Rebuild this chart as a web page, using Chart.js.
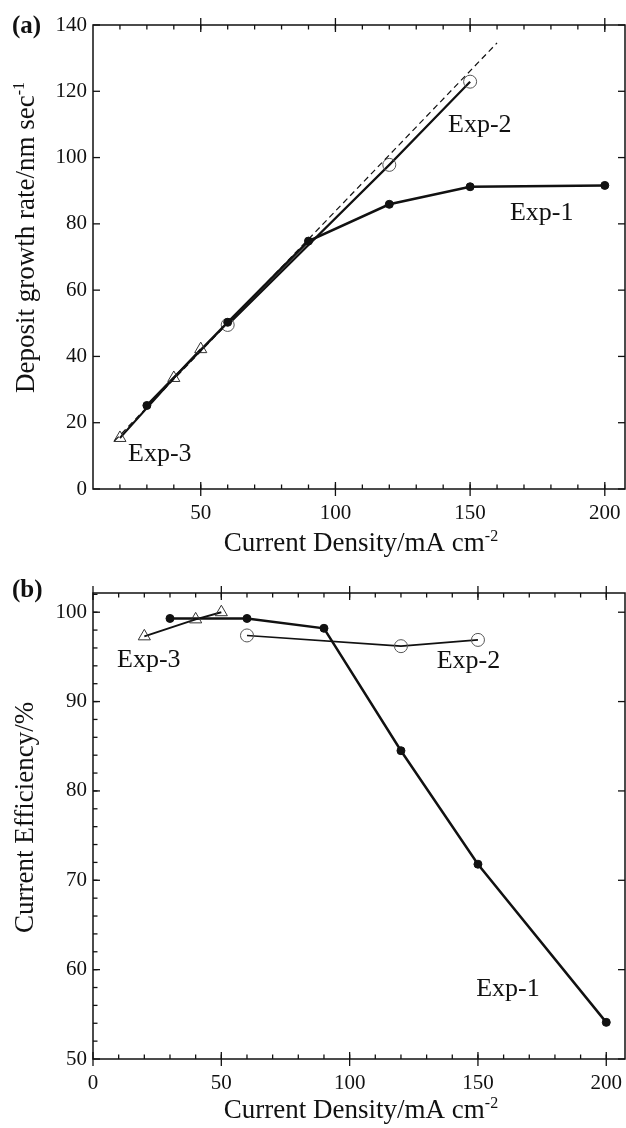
<!DOCTYPE html>
<html>
<head>
<meta charset="utf-8">
<script src="https://cdn.jsdelivr.net/npm/chart.js@4.4.1/dist/chart.umd.min.js"></script>
<style>
  html, body { margin: 0; padding: 0; background: #ffffff; }
  body { width: 626px; height: 1128px; position: relative; overflow: hidden; }
  canvas { position: absolute; left: 0; }
  #cA { top: 0; }
  #cB { top: 560px; }
</style>
</head>
<body>
<canvas id="cA" width="626" height="560"></canvas>
<canvas id="cB" width="626" height="568"></canvas>
<script>
// ---------- Panel (a): deposit growth rate ----------
const densityExp1 = [30, 60, 90, 120, 150, 200];
const growthExp1  = [25.2, 50.3, 74.8, 85.9, 91.2, 91.6];
const densityExp2 = [60, 120, 150];
const growthExp2  = [49.5, 97.8, 122.9];
const densityExp3 = [20, 40, 50];
const growthExp3  = [15.4, 33.5, 42.2];
const guideDensity = [18, 160];
const guideGrowth  = [14.5, 134.6];

// ---------- Panel (b): current efficiency ----------
const effDensityExp1 = [30, 60, 90, 120, 150, 200];
const efficiencyExp1 = [99.3, 99.3, 98.2, 84.5, 71.8, 54.1];
const effDensityExp2 = [60, 120, 150];
const efficiencyExp2 = [97.4, 96.2, 96.9];
const effDensityExp3 = [20, 40, 50];
const efficiencyExp3 = [97.3, 99.2, 100.0];

// ---------- tick labels ----------
const ticksAx = [50, 100, 150, 200];
const ticksAy = [0, 20, 40, 60, 80, 100, 120, 140];
const ticksBx = [0, 50, 100, 150, 200];
const ticksBy = [50, 60, 70, 80, 90, 100];

const SERIF = "'Liberation Serif', 'Times New Roman', serif";
const INK = '#111111';

function pts(xs, ys) { return xs.map((x, i) => ({ x: x, y: ys[i] })); }
function range(a, b, s) { const r = []; for (let v = a; v <= b + 1e-9; v += s) r.push(v); return r; }

function drawSuperText(ctx, parts, x, y) {
  let cx = x;
  parts.forEach(p => {
    ctx.font = p.size + 'px ' + SERIF;
    ctx.fillText(p.t, cx, y - (p.rise || 0));
    cx += ctx.measureText(p.t).width;
  });
}
function superWidth(ctx, parts) {
  let w = 0;
  parts.forEach(p => { ctx.font = p.size + 'px ' + SERIF; w += ctx.measureText(p.t).width; });
  return w;
}

function framePlugin(cfg) {
  return {
    id: 'frame_' + cfg.id,
    beforeDatasetsDraw(chart) {
      const { ctx, chartArea: a, scales: { x, y } } = chart;
      ctx.save();
      ctx.strokeStyle = INK;
      ctx.lineWidth = 1.5;
      ctx.strokeRect(a.left, a.top, a.right - a.left, a.bottom - a.top);
      ctx.lineWidth = 1.3;
      const seg = (x1, y1, x2, y2) => { ctx.beginPath(); ctx.moveTo(x1, y1); ctx.lineTo(x2, y2); ctx.stroke(); };
      cfg.xMajor.forEach(v => {
        const p = x.getPixelForValue(v);
        seg(p, a.bottom - 7, p, a.bottom + 7);
        seg(p, a.top - 7, p, a.top + 7);
      });
      cfg.xMinor.forEach(v => {
        const p = x.getPixelForValue(v);
        if (p <= a.left + 1 || p >= a.right - 1) return;
        seg(p, a.bottom - 4.5, p, a.bottom);
        seg(p, a.top, p, a.top + 4.5);
      });
      cfg.yMajor.forEach(v => {
        const p = y.getPixelForValue(v);
        seg(a.left, p, a.left + 7, p);
        seg(a.right - 7, p, a.right, p);
      });
      cfg.yMinor.forEach(v => {
        const p = y.getPixelForValue(v);
        if (p <= a.top + 1 || p >= a.bottom - 1) return;
        seg(a.left, p, a.left + 4.5, p);
      });
      ctx.restore();
    },
    afterDraw(chart) {
      const { ctx, chartArea: a, scales: { x, y } } = chart;
      ctx.save();
      ctx.fillStyle = INK;
      ctx.textBaseline = 'alphabetic';
      ctx.textAlign = 'left';
      ctx.font = 'bold 25px ' + SERIF;
      ctx.fillText(cfg.panel, 12, cfg.panelBaseline);
      const xw = superWidth(ctx, cfg.xTitle);
      drawSuperText(ctx, cfg.xTitle, (a.left + a.right) / 2 - xw / 2 + 2, a.bottom + cfg.xTitleOffset);
      ctx.save();
      ctx.translate(cfg.yTitleX, cfg.yTitleStart);
      ctx.rotate(-Math.PI / 2);
      drawSuperText(ctx, cfg.yTitle, 0, 0);
      ctx.restore();
      ctx.font = '26px ' + SERIF;
      cfg.labels.forEach(l => {
        ctx.fillText(l.text, x.getPixelForValue(l.x), y.getPixelForValue(l.y));
      });
      ctx.restore();
    }
  };
}

function makeOptions(o) {
  return {
    responsive: false,
    animation: false,
    devicePixelRatio: 1,
    layout: { autoPadding: false, padding: { top: o.padTop, right: 1, left: 0, bottom: 0 } },
    plugins: { legend: { display: false }, tooltip: { enabled: false } },
    scales: {
      x: {
        type: 'linear', min: o.xMin, max: o.xMax,
        grid: { display: false, drawTicks: true, tickLength: 12 },
        border: { display: false },
        afterBuildTicks: s => { s.ticks = o.xTicks.map(v => ({ value: v })); },
        afterFit: s => { s.height = o.xHeight; },
        ticks: { color: INK, font: { family: SERIF, size: 21 }, padding: 0, maxRotation: 0, autoSkip: false }
      },
      y: {
        type: 'linear', min: o.yMin, max: o.yMax,
        grid: { display: false, drawTicks: true, tickLength: 6 },
        border: { display: false },
        afterBuildTicks: s => { s.ticks = o.yTicks.map(v => ({ value: v })); },
        afterFit: s => { s.width = 93; },
        ticks: { color: INK, font: { family: SERIF, size: 21 }, padding: 0, autoSkip: false }
      }
    }
  };
}

const exp1Style = { borderColor: INK, borderWidth: 2.5, pointStyle: 'circle', pointRadius: 4, pointBackgroundColor: INK, pointBorderColor: INK, pointBorderWidth: 1, showLine: true, tension: 0 };
const exp2Style = { borderColor: INK, borderWidth: 2.2, pointStyle: 'circle', pointRadius: 6.5, pointBackgroundColor: 'rgba(0,0,0,0)', pointBorderColor: '#555555', pointBorderWidth: 1, showLine: true, tension: 0 };
const exp3Style = { borderColor: INK, borderWidth: 2, pointStyle: 'triangle', pointRadius: 7, pointBackgroundColor: 'rgba(0,0,0,0)', pointBorderColor: '#333333', pointBorderWidth: 1, showLine: true, tension: 0 };

// Panel (a)
new Chart(document.getElementById('cA'), {
  type: 'scatter',
  data: {
    datasets: [
      { label: 'guide', data: pts(guideDensity, guideGrowth), borderColor: INK, borderWidth: 1.2, borderDash: [6, 4], pointRadius: 0, showLine: true },
      Object.assign({ label: 'Exp-3', data: pts(densityExp3, growthExp3) }, exp3Style),
      Object.assign({ label: 'Exp-1', data: pts(densityExp1, growthExp1) }, exp1Style),
      Object.assign({ label: 'Exp-2', data: pts(densityExp2, growthExp2) }, exp2Style)
    ]
  },
  options: makeOptions({ padTop: 25, xMin: 10, xMax: 207.5, yMin: 0, yMax: 140, xTicks: ticksAx, yTicks: ticksAy, xHeight: 71 }),
  plugins: [framePlugin({
    id: 'a', panel: '(a)', panelBaseline: 33,
    xMajor: ticksAx, xMinor: range(10, 200, 10), yMajor: ticksAy, yMinor: [],
    xTitle: [{ t: 'Current Density/mA cm', size: 27 }, { t: '-2', size: 16, rise: 10 }],
    xTitleOffset: 62,
    yTitle: [{ t: 'Deposit growth rate/nm sec', size: 27 }, { t: '-1', size: 16, rise: 10 }],
    yTitleX: 34, yTitleStart: 393,
    labels: [
      { text: 'Exp-2', x: 141.8, y: 107.7 },
      { text: 'Exp-1', x: 164.8, y: 81.2 },
      { text: 'Exp-3', x: 23, y: 8.3 }
    ]
  })]
});

// Panel (b)
new Chart(document.getElementById('cB'), {
  type: 'scatter',
  data: {
    datasets: [
      Object.assign({ label: 'Exp-3', data: pts(effDensityExp3, efficiencyExp3) }, exp3Style),
      Object.assign({ label: 'Exp-2', data: pts(effDensityExp2, efficiencyExp2) }, exp2Style, { borderWidth: 1.6 }),
      Object.assign({ label: 'Exp-1', data: pts(effDensityExp1, efficiencyExp1) }, exp1Style)
    ]
  },
  options: makeOptions({ padTop: 33, xMin: 0, xMax: 207.3, yMin: 50, yMax: 102.15, xTicks: ticksBx, yTicks: ticksBy, xHeight: 69 }),
  plugins: [framePlugin({
    id: 'b', panel: '(b)', panelBaseline: 37,
    xMajor: ticksBx, xMinor: range(0, 200, 10), yMajor: ticksBy, yMinor: range(50, 102, 2),
    xTitle: [{ t: 'Current Density/mA cm', size: 27 }, { t: '-2', size: 16, rise: 10 }],
    xTitleOffset: 59,
    yTitle: [{ t: 'Current Efficiency/%', size: 27 }],
    yTitleX: 33, yTitleStart: 373,
    labels: [
      { text: 'Exp-3', x: 9.35, y: 93.84 },
      { text: 'Exp-2', x: 133.9, y: 93.73 },
      { text: 'Exp-1', x: 149.3, y: 57.03 }
    ]
  })]
});
</script>
</body>
</html>
